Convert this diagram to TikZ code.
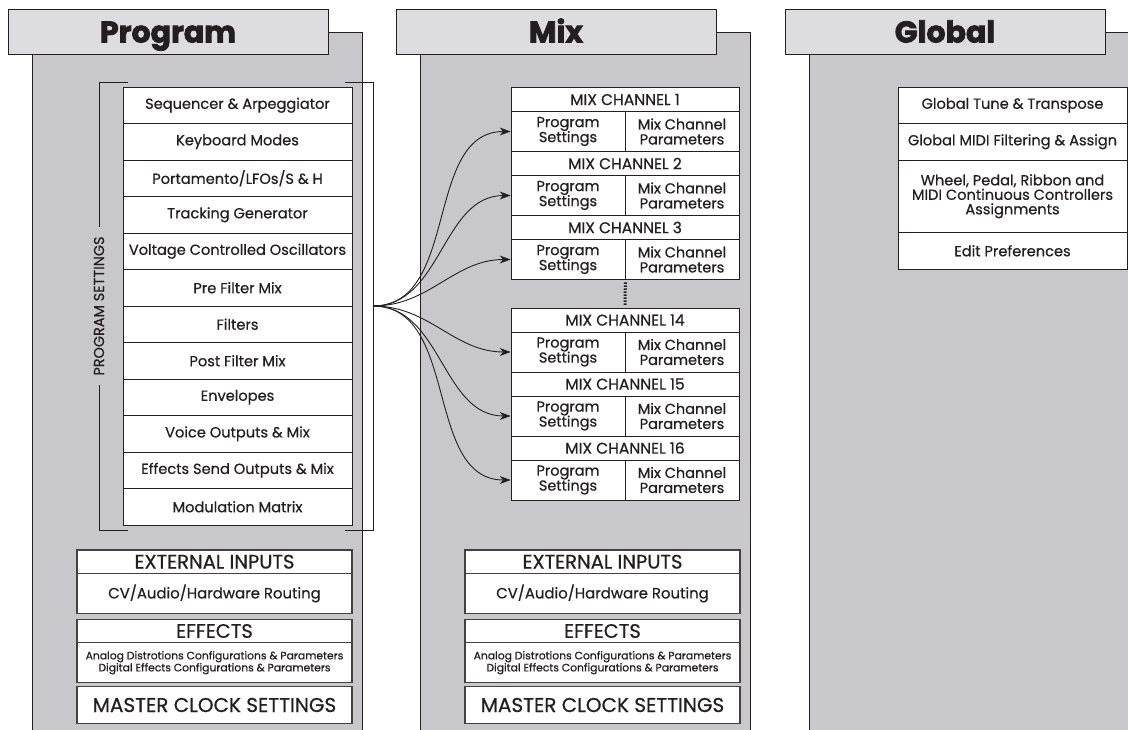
\documentclass[tikz,border=0pt]{standalone}
\usepackage{fontspec}
\setmainfont{Poppins}[FakeBold=0.6]
\newfontfamily\tabfont{Poppins}[BoldFeatures={FakeBold=2.5}]
\usetikzlibrary{arrows.meta}
\definecolor{panelgray}{RGB}{200,200,202}
\definecolor{tabgray}{RGB}{221,221,223}
\definecolor{ink}{RGB}{35,31,32}
\tikzset{
  edge/.style={draw=ink, line width=0.9pt},
  tab/.style={
    rectangle, fill=tabgray, draw=ink, line width=0.9pt,
    minimum width=320pt, minimum height=45pt, inner sep=0pt,
    text height=24pt, text depth=2pt,
    text=ink, font=\fontsize{30}{32}\tabfont\bfseries
  },
  row/.style={
    rectangle, fill=white, draw=ink, line width=0.7pt,
    minimum width=229pt, minimum height=36.5pt, inner sep=0pt,
    text=ink, align=center, font=\fontsize{14.6}{15}\selectfont
  },
  chan-head/.style={row, minimum width=228pt, minimum height=24pt,
    font=\fontsize{15.5}{16}\selectfont},
  chan-cell/.style={row, minimum width=114pt, minimum height=40pt,
    font=\fontsize{14.5}{15}\selectfont},
  low-head/.style={row, draw=ink!85, line width=1.1pt, minimum width=275pt,
    minimum height=23.4pt, font=\fontsize{19.5}{20}\selectfont},
  low-body/.style={low-head, minimum height=40pt, font=\fontsize{14.9}{15}\selectfont},
  low-clock/.style={low-head, minimum height=36.6pt, font=\fontsize{20}{21}\selectfont},
  bracket/.style={draw=ink, line width=0.9pt},
  side-label/.style={rotate=90, inner sep=9.5pt, text=ink, font=\fontsize{14.4}{15}\selectfont},
  feed/.style={draw=ink, line width=0.9pt, -{Stealth[length=11pt, width=8pt, inset=3.5pt]}},
  gap-dots/.style={draw=ink, line width=3pt, dash pattern=on 1.6pt off 1.4pt}
}
\newcommand{\panelframe}[3]{% #1 = panel left x, #2 = tab name, #3 = title
  \fill[panelgray] (#1,32) rectangle ++(330,700);
  \draw[edge] (#1,732) -- (#1,32) -- ++(330,0) -- ++(0,700);
  \node[tab] (#2) at (#1+136,31.5) {#3};
}
\newcommand{\mixchannel}[3]{% #1 = name, #2 = top y, #3 = channel number
  \node[chan-head] (#1) at (625,#2+12) {MIX CHANNEL #3};
  \node[chan-cell] (#1-prog) at (568,#2+44) {Program\\Settings};
  \node[chan-cell] (#1-par) at (682,#2+44) {Mix Channel\\Parameters};
}
\newcommand{\lowerstack}[2]{% #1 = name prefix, #2 = centre x
  \node[low-head] (#1-ext) at (#2,561.7) {EXTERNAL INPUTS};
  \node[low-body] (#1-route) at (#2,593.4) {CV/Audio/Hardware Routing};
  \node[low-head] (#1-fx) at (#2,631) {EFFECTS};
  \node[low-body, font=\fontsize{10.8}{12}\selectfont] (#1-fxcfg) at (#2,662.7)
    {Analog Distrotions Configurations \& Parameters\\Digital Effects Configurations \& Parameters};
  \node[low-clock] (#1-clock) at (#2,705) {MASTER CLOCK SETTINGS};
}

\begin{document}
\begin{tikzpicture}[x=1pt, y=-1pt]
  \useasboundingbox (0,0) rectangle (1128,729);

  % 1. The three panels, each with its tab
  \panelframe{32}{progtab}{Program}
  \panelframe{420}{mixtab}{Mix}
  \panelframe{809}{globtab}{Global}

  % 2. Program settings list
  \node[row] (seq) at (237.5,105.25) {Sequencer \& Arpeggiator};
  \node[row] (kbd) at (237.5,141.75) {Keyboard Modes};
  \node[row] (porta) at (237.5,178.25) {Portamento/LFOs/S \& H};
  \node[row] (track) at (237.5,214.75) {Tracking Generator};
  \node[row] (vco) at (237.5,251.25) {Voltage Controlled Oscillators};
  \node[row] (prefilt) at (237.5,287.75) {Pre Filter Mix};
  \node[row] (filt) at (237.5,324.25) {Filters};
  \node[row] (postfilt) at (237.5,360.75) {Post Filter Mix};
  \node[row] (env) at (237.5,397.25) {Envelopes};
  \node[row] (voice) at (237.5,433.75) {Voice Outputs \& Mix};
  \node[row] (fxsend) at (237.5,470.25) {Effects Send Outputs \& Mix};
  \node[row] (modmat) at (237.5,506.75) {Modulation Matrix};

  % Bracket round the list, the label sits in a gap on the left
  \node[side-label] (progset) at (99,306) {PROGRAM SETTINGS};
  \draw[bracket] (128,82) -| (progset.east);
  \draw[bracket] (128,530) -| (progset.west);
  \draw[bracket] (345,82) -| (373,530) -- (345,530);
  \coordinate (fan) at (373,306);

  % 3. Mix channels
  \mixchannel{ch1}{87.5}{1}
  \mixchannel{ch2}{151.5}{2}
  \mixchannel{ch3}{215.5}{3}
  \mixchannel{ch14}{308}{14}
  \mixchannel{ch15}{372}{15}
  \mixchannel{ch16}{436}{16}
  \draw[gap-dots] ([yshift=-2.5pt]ch3-prog.south east) -- ([yshift=2.5pt]ch14.north);

  % Program settings fan out to every channel
  \draw[feed] (fan) to[out=0, in=180] (ch1-prog.west);
  \draw[feed] (fan) to[out=0, in=180] (ch2-prog.west);
  \draw[feed] (fan) to[out=0, in=180] (ch3-prog.west);
  \draw[feed] (fan) to[out=0, in=180] (ch14-prog.west);
  \draw[feed] (fan) to[out=0, in=180] (ch15-prog.west);
  \draw[feed] (fan) to[out=0, in=180] (ch16-prog.west);

  % 4. Inputs, effects and clock under Program and Mix
  \lowerstack{prog}{214.5}
  \lowerstack{mix}{602.5}

  % 5. Global settings
  \node[row] (gtune) at (1012.5,105.25) {Global Tune \& Transpose};
  \node[row] (gmidi) at (1012.5,141.75) {Global MIDI Filtering \& Assign};
  \node[row, minimum height=72.5pt, font=\fontsize{14.6}{14.5}\selectfont] (gctrl) at (1012.5,196.25)
    {Wheel, Pedal, Ribbon and\\MIDI Continuous Controllers\\Assignments};
  \node[row] (gpref) at (1012.5,250.75) {Edit Preferences};

\end{tikzpicture}
\end{document}
